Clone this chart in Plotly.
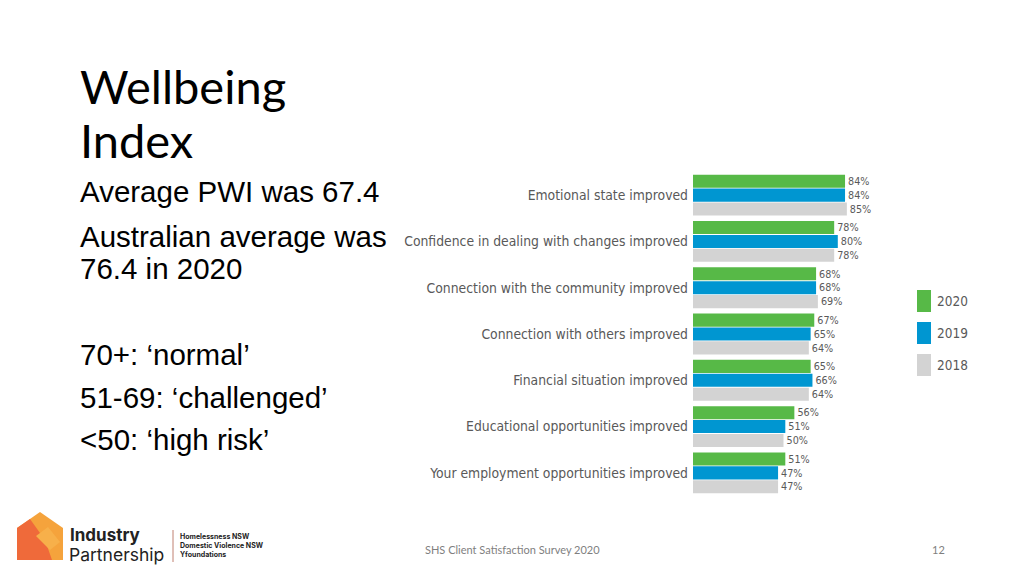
import plotly.graph_objects as go

W, H = 1024, 576

categories = [
    "Emotional state improved",
    "Confidence in dealing with changes improved",
    "Connection with the community improved",
    "Connection with others improved",
    "Financial situation improved",
    "Educational opportunities improved",
    "Your employment opportunities improved",
]
years = ["2020", "2019", "2018"]
values_2020 = [84, 78, 68, 67, 65, 56, 51]
values_2019 = [84, 80, 68, 65, 66, 51, 47]
values_2018 = [85, 78, 69, 64, 64, 50, 47]
series = [values_2020, values_2019, values_2018]
colors = ["#57b947", "#0096d1", "#d3d3d3"]

NARROW = "DejaVu Sans Condensed"

fig = go.Figure()
for yr, vals, col in zip(years, series, colors):
    fig.add_trace(go.Bar(
        y=categories, x=vals, name=yr, orientation="h",
        marker=dict(color=col, line=dict(width=0)),
        text=[f"{v}%" for v in vals], textposition="outside",
        textfont=dict(family=NARROW, size=11.5, color="#595959"),
        cliponaxis=False, showlegend=False,
    ))

def px(x):
    return x / W

def py(y):
    return 1 - y / H

fig.update_layout(
    width=W, height=H,
    margin=dict(l=0, r=0, t=0, b=0),
    paper_bgcolor="white", plot_bgcolor="white",
    barmode="group", bargap=0.1, bargroupgap=0.06,
    xaxis=dict(domain=[px(693), px(874)], range=[0, 100], visible=False),
    yaxis=dict(domain=[py(496), py(172)], autorange="reversed",
               showgrid=False, showline=False, ticks="", ticklen=0,
               ticklabelstandoff=4,
               tickfont=dict(family=NARROW, size=13.8, color="#595959"),
               automargin=False),
    font=dict(family="Liberation Sans"),
)

# Legend (custom)
leg_y = [301, 333, 365]
for yr, col, yc in zip(years, colors, leg_y):
    fig.add_shape(type="rect", xref="paper", yref="paper",
                  x0=px(917), x1=px(931), y0=py(yc + 11), y1=py(yc - 11),
                  fillcolor=col, line=dict(width=0))
    fig.add_annotation(x=px(935), y=py(yc), xref="paper", yref="paper",
                       text=yr, showarrow=False, xanchor="left", yanchor="middle",
                       font=dict(family=NARROW, size=13.5, color="#595959"))

# Left text block
def txt(t, x, y, size, family="Liberation Sans", color="#000000", anchor="left"):
    fig.add_annotation(x=px(x), y=py(y), xref="paper", yref="paper", text=t,
                       showarrow=False, xanchor=anchor, yanchor="middle",
                       borderpad=0,
                       font=dict(family=family, size=size, color=color))

txt("Wellbeing", 79, 86, 47, family="Lato")
txt("Index", 79, 140, 47, family="Lato")
txt("Average PWI was 67.4", 79, 192, 29.5)
txt("Australian average was", 79, 236, 29.5)
txt("76.4 in 2020", 79, 268, 29.5)
txt("70+: \u2018normal\u2019", 79, 354, 29.5)
txt("51-69: \u2018challenged\u2019", 79, 397, 29.5)
txt("<50: \u2018high risk\u2019", 79, 439, 29.5)

# Footer
txt("SHS Client Satisfaction Survey 2020", 512, 549, 11, family="Lato", color="#7f7f7f", anchor="center")
txt("12", 938, 549, 11, family="Lato", color="#7f7f7f", anchor="center")

# Logo
def pth(points):
    s = "M " + " L ".join(f"{px(a)},{py(b)}" for a, b in points) + " Z"
    return s

fig.add_shape(type="path", xref="paper", yref="paper",
              path=pth([(17, 528), (40, 512), (63, 528), (63, 560), (17, 560)]),
              fillcolor="#f5a33c", line=dict(width=0))
fig.add_shape(type="path", xref="paper", yref="paper",
              path=pth([(17, 528), (30, 519), (45, 540), (52, 560), (17, 560)]),
              fillcolor="#ef6a3a", line=dict(width=0))
fig.add_shape(type="path", xref="paper", yref="paper",
              path=pth([(36, 536), (48, 527), (60, 542), (50, 550)]),
              fillcolor="#f7b04a", line=dict(width=0))
txt("<b>Industry</b>", 69, 535, 17, family="Inter", color="#222222")
txt("Partnership", 68, 554, 17.5, family="Inter", color="#222222")
fig.add_shape(type="line", xref="paper", yref="paper",
              x0=px(173), x1=px(173), y0=py(530), y1=py(562),
              line=dict(color="#c08070", width=1))
txt("<b>Homelessness NSW</b>", 179, 536, 7, family="Inter", color="#222222")
txt("<b>Domestic Violence NSW</b>", 179, 545, 7, family="Inter", color="#222222")
txt("<b>Yfoundations</b>", 179, 554, 7, family="Inter", color="#222222")

fig.write_html("out.html", config={"displayModeBar": False},
               post_script="document.body.style.margin='0';document.body.style.overflow='hidden';")
